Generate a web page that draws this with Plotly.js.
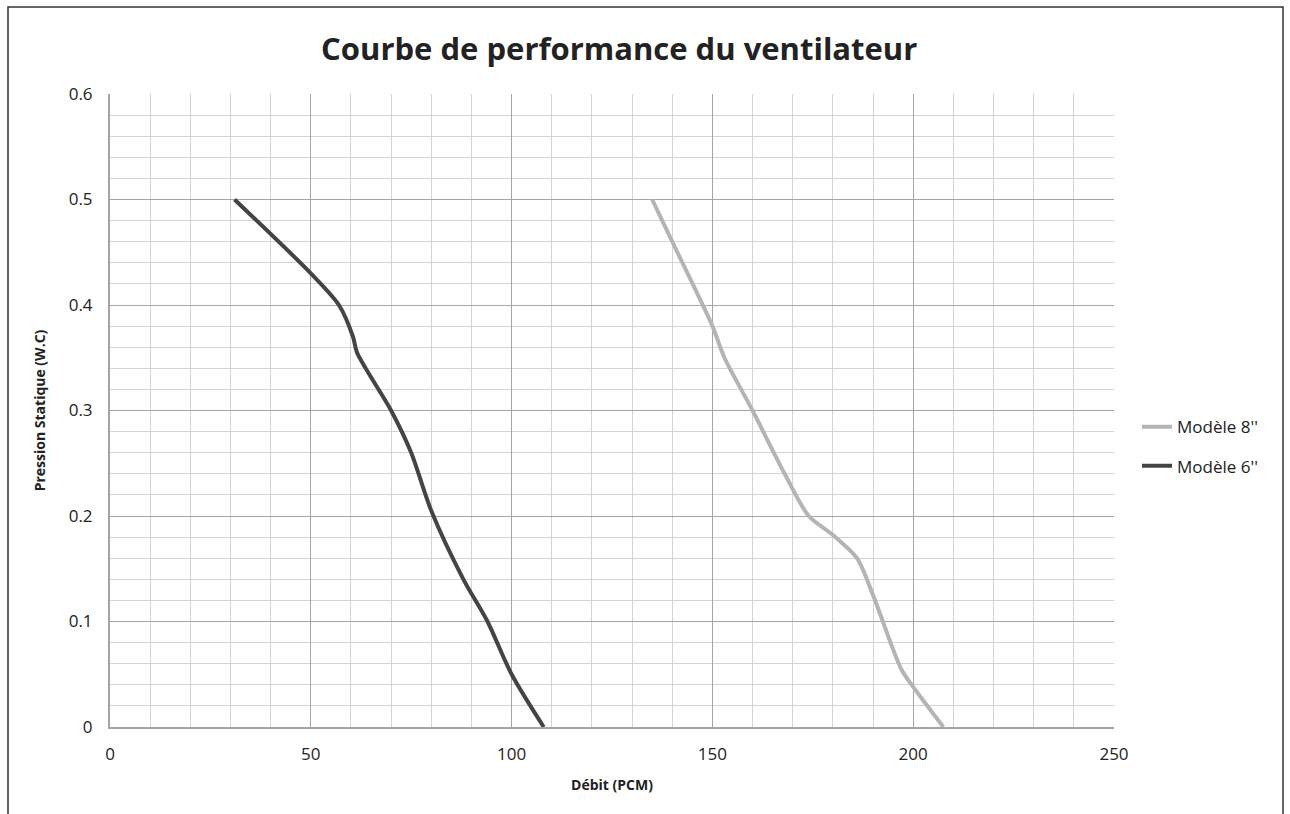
<!DOCTYPE html>
<html><head><meta charset="utf-8">
<script src="https://cdn.plot.ly/plotly-3.0.1.min.js"></script>
<style>html,body{margin:0;padding:0;background:#fff;}#chart{width:1290px;height:814px;}</style>
</head><body><div id="chart"></div>
<script>
const seriesNames = ["Modèle 8''", "Modèle 6''"];
const debit8 = [135, 140, 150, 153, 160, 168, 174, 180, 186, 190, 197, 200, 207.5];
const pression8 = [0.5, 0.46, 0.38, 0.35, 0.3, 0.24, 0.2, 0.182, 0.16, 0.125, 0.055, 0.038, 0];
const debit6 = [31, 50, 57, 60.5, 61.5, 70, 75, 80, 88, 94, 100, 108];
const pression6 = [0.5, 0.43, 0.4, 0.37, 0.355, 0.3, 0.26, 0.205, 0.14, 0.1, 0.05, 0];

const font = "Open Sans, Noto Sans, sans-serif";
const traces = [
  {x: debit8, y: pression8, name: seriesNames[0], legendgroup: 'a', mode: 'lines', line: {color: '#b4b4b8', width: 4, shape: 'spline', smoothing: 0.8}},
  {x: debit6, y: pression6, name: seriesNames[1], legendgroup: 'b', mode: 'lines', line: {color: '#444444', width: 4, shape: 'spline', smoothing: 0.8}}
];
const L = 110, R = 1114, T = 94, B = 727.5;
const pw = R - L, ph = B - T;
const layout = {
  width: 1290, height: 814,
  margin: {l: L, r: 1290 - R, t: T, b: 814 - B, pad: 0},
  paper_bgcolor: '#fff', plot_bgcolor: '#fff',
  font: {family: font, color: '#222', size: 17},
  title: {text: '<b>Courbe de performance du ventilateur</b>', font: {family: font, size: 31, color: '#222'}, x: 0.48, xanchor: 'center', y: 0.94, yanchor: 'middle'},
  xaxis: {
    range: [0, 250], dtick: 50, tick0: 0, showgrid: true, gridcolor: '#a5a5a9', gridwidth: 1,
    minor: {dtick: 10, showgrid: true, gridcolor: '#d4d4d4', gridwidth: 1, ticks: ''},
    showline: true, linecolor: '#a5a5a9', linewidth: 2, mirror: false, zeroline: false, ticks: '',
    tickfont: {size: 17, color: '#222'}, ticklabelstandoff: 11,
    title: {text: '<b>Débit (PCM)</b>', font: {size: 14, color: '#222'}, standoff: 16}
  },
  yaxis: {
    range: [0, 0.6], dtick: 0.1, tick0: 0, showgrid: true, gridcolor: '#a5a5a9', gridwidth: 1,
    minor: {dtick: 0.02, showgrid: true, gridcolor: '#d4d4d4', gridwidth: 1, ticks: ''},
    showline: true, linecolor: '#a5a5a9', linewidth: 2, zeroline: false, ticks: '',
    tickfont: {size: 17, color: '#222'}, ticklabelstandoff: 12,
    title: {text: '<b>Pression Statique (W.C)</b>', font: {size: 14, color: '#222'}, standoff: 20}
  },
  legend: {x: (1137 - L) / pw, y: (B - 447) / ph, xanchor: 'left', yanchor: 'middle', font: {size: 17, color: '#222'}, itemwidth: 30, traceorder: 'grouped', tracegroupgap: 14, bgcolor: 'rgba(0,0,0,0)'},
  showlegend: true,
  shapes: [{
    type: 'path', xref: 'paper', yref: 'paper',
    path: `M ${(8 - L) / pw} ${(B - 830) / ph} L ${(8 - L) / pw} ${(B - 7) / ph} L ${(1283 - L) / pw} ${(B - 7) / ph} L ${(1283 - L) / pw} ${(B - 830) / ph}`,
    line: {color: '#333', width: 1.5}
  }]
};
Plotly.newPlot('chart', traces, layout, {displayModeBar: false, staticPlot: true});
</script></body></html>
